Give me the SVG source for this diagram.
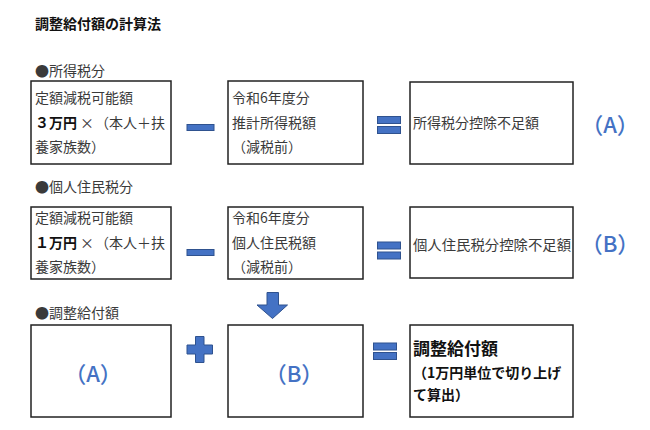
<svg xmlns="http://www.w3.org/2000/svg" width="650" height="430" viewBox="0 0 650 430">
<style>
text{font-family:"Noto Sans CJK JP","Noto Sans",sans-serif;font-size:14px;fill:#3a3a3a}
.title{font-weight:bold;fill:#111}
.box{fill:#fff;stroke:#222;stroke-width:1.5}
.op{fill:#4472C4;stroke:#2F528F;stroke-width:1}
.lbl{font-family:"Noto Sans CJK JP","Noto Sans",sans-serif;font-size:22px;font-weight:500;fill:#4472C4;text-anchor:middle}
.b{font-weight:bold;fill:#111}
</style>
<rect width="650" height="430" fill="#fff"/>
<g id="headings">
<text class="title" x="35" y="29">調整給付額の計算法</text>
<text x="35" y="76">●所得税分</text>
<text x="35" y="192">●個人住民税分</text>
<text x="35" y="318">●調整給付額</text>
</g>
<g id="n1">
<rect class="box" x="31" y="81" width="140" height="83"/>
<text x="35" y="103">定額減税可能額</text>
<text y="128"><tspan class="b" x="35">３万円</tspan><tspan x="80">×</tspan><tspan x="95">（本人＋扶</tspan></text>
<text x="35" y="152">養家族数）</text>
</g>
<g id="n2">
<rect class="box" x="228" y="81" width="135" height="83"/>
<text x="232" y="103">令和6年度分</text>
<text x="232" y="128">推計所得税額</text>
<text x="232" y="152">（減税前）</text>
</g>
<g id="n3">
<rect class="box" x="410" y="82" width="163" height="82"/>
<text x="413" y="128">所得税分控除不足額</text>
</g>
<g id="lA1"><text class="lbl" x="610" y="133">（A）</text></g>
<g id="n4">
<rect class="box" x="31" y="207" width="140" height="72"/>
<text x="35" y="223">定額減税可能額</text>
<text y="248"><tspan class="b" x="35">１万円</tspan><tspan x="80">×</tspan><tspan x="95">（本人＋扶</tspan></text>
<text x="35" y="272">養家族数）</text>
</g>
<g id="n5">
<rect class="box" x="228" y="207" width="135" height="72"/>
<text x="232" y="223">令和6年度分</text>
<text x="232" y="248">個人住民税額</text>
<text x="232" y="272">（減税前）</text>
</g>
<g id="n6">
<rect class="box" x="410" y="207" width="163" height="71"/>
<text x="413" y="250" textLength="158" lengthAdjust="spacingAndGlyphs">個人住民税分控除不足額</text>
</g>
<g id="lB1"><text class="lbl" x="610" y="252">（B）</text></g>
<g id="n7">
<rect class="box" x="31" y="325" width="140" height="92"/>
<text class="lbl" x="93" y="382">（A）</text>
</g>
<g id="n8">
<rect class="box" x="228" y="325" width="135" height="92"/>
<text class="lbl" x="294" y="382">（B）</text>
</g>
<g id="n9">
<rect class="box" x="410" y="325" width="163" height="92"/>
<text class="b" x="413" y="355" style="font-size:17px">調整給付額</text>
<text class="b" x="413" y="378">（1万円単位で切り上げ</text>
<text class="b" x="413" y="400">て算出）</text>
</g>
<g id="operators">
<rect class="op" x="187" y="124.5" width="27" height="6"/>
<rect class="op" x="377.5" y="116.5" width="23" height="7"/>
<rect class="op" x="377.5" y="126.5" width="23" height="7"/>
<rect class="op" x="187" y="249.5" width="27" height="6"/>
<rect class="op" x="377.5" y="242" width="23" height="7"/>
<rect class="op" x="377.5" y="252" width="23" height="7"/>
<path class="op" d="M195.5,336.5 H204 V345 H212.5 V354 H204 V362.5 H195.5 V354 H187 V345 H195.5 Z"/>
<rect class="op" x="373.5" y="343" width="23" height="7"/>
<rect class="op" x="373.5" y="352.5" width="23" height="7"/>
</g>
<g id="connectors">
<path class="op" d="M267,292.5 H278.5 V305 H287.5 L272.5,318.5 L257,305 H267 Z"/>
</g>
</svg>
